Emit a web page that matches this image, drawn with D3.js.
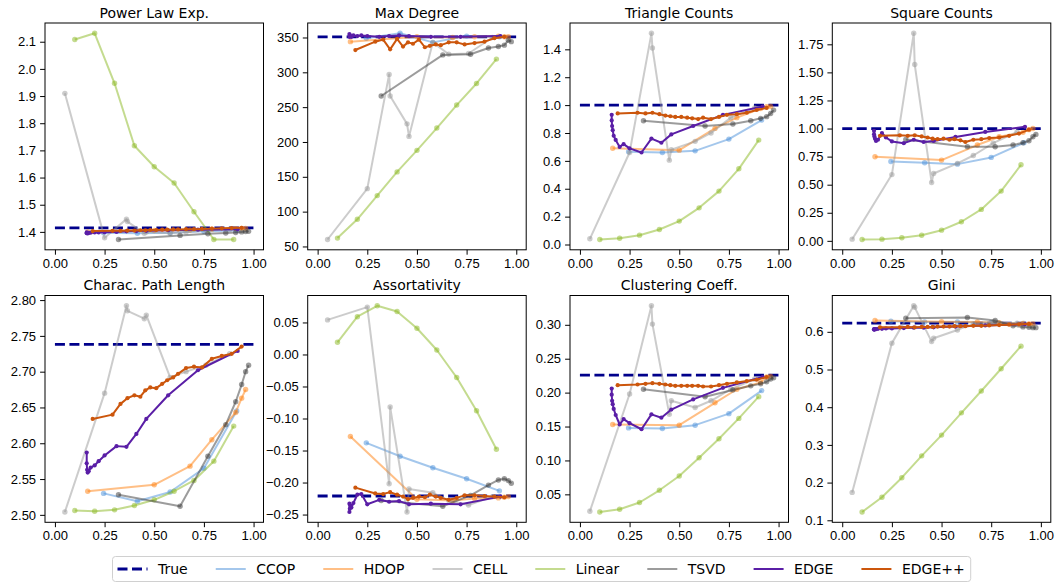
<!DOCTYPE html>
<html>
<head>
<meta charset="utf-8">
<script src="https://cdn.jsdelivr.net/npm/d3@7"></script>
<style>
  body { margin: 0; background: #fff; }
  svg { font-family: "DejaVu Sans", sans-serif; }
</style>
</head>
<body>
<svg id="chart"></svg>
<script>
// metodos, pela ordem da legenda
const methods = ["True", "CCOP", "HDOP", "CELL", "Linear", "TSVD", "EDGE", "EDGE++"]
const titles = ["Power Law Exp.", "Max Degree", "Triangle Counts", "Square Counts",
    "Charac. Path Length", "Assortativity", "Clustering Coeff.", "Gini"]

// posicoes x de cada metodo (iguais em todos os paineis)
const xTrue = [0, 1]
const xCCOP = [0.245, 0.415, 0.58, 0.75, 0.915]
const xHDOP = [0.165, 0.50, 0.68, 0.79, 0.91, 0.94, 0.96]
const xCELL = [0.05, 0.25, 0.36, 0.365, 0.45, 0.46, 0.58, 0.66, 0.76, 0.88]
const xLinear = [0.1, 0.2, 0.3, 0.4, 0.5, 0.6, 0.7, 0.8, 0.9]
const xTSVD = [0.32, 0.63, 0.77, 0.86, 0.91, 0.94, 0.96, 0.975]
const xEDGE = [0.16, 0.16, 0.162, 0.165, 0.17, 0.18, 0.2, 0.22, 0.25, 0.31, 0.36, 0.41, 0.46, 0.57, 0.72, 0.92]
const xEDGEpp = [0.19, 0.29, 0.33, 0.365, 0.40, 0.43, 0.455, 0.48, 0.51, 0.54, 0.565, 0.595, 0.62, 0.66, 0.70, 0.74, 0.79, 0.84, 0.89, 0.94]

// valores y por painel: [True, CCOP, HDOP, CELL, Linear, TSVD, EDGE, EDGE++]
const yPowerLaw = [
    [1.415, 1.415],
    [1.397, 1.395, 1.397, 1.402, 1.405],
    [1.400, 1.405, 1.407, 1.410, 1.412, 1.413, 1.413],
    [1.91, 1.378, 1.447, 1.438, 1.395, 1.400, 1.395, 1.400, 1.405, 1.410],
    [2.108, 2.131, 1.947, 1.717, 1.640, 1.580, 1.474, 1.372, 1.372],
    [1.372, 1.387, 1.393, 1.396, 1.398, 1.400, 1.401, 1.402],
    [1.398, 1.395, 1.396, 1.394, 1.396, 1.397, 1.398, 1.398, 1.399, 1.400, 1.402, 1.403, 1.404, 1.406, 1.408, 1.410],
    [1.403, 1.404, 1.404, 1.405, 1.405, 1.406, 1.406, 1.407, 1.407, 1.408, 1.408, 1.409, 1.409, 1.410, 1.410, 1.411, 1.412, 1.413, 1.414, 1.415]
]
const yMaxDegree = [
    [351, 351],
    [349, 356, 343, 352, 351],
    [344, 351, 350, 351, 352, 351, 351],
    [60, 133, 297, 266, 226, 208, 343, 326, 327, 350],
    [62, 89, 123, 157, 188, 220, 253, 284, 319],
    [266, 325, 326, 335, 337, 339, 346, 344],
    [355, 351, 353, 352, 351, 353, 352, 353, 352, 351, 352, 353, 352, 351, 351, 352],
    [332, 344, 347, 333, 348, 337, 343, 341, 347, 336, 338, 340, 339, 343, 343, 340, 342, 344, 349, 351]
]
const yTriangle = [
    [1.0, 1.0],
    [0.665, 0.66, 0.672, 0.756, 0.893],
    [0.69, 0.677, 0.833, 0.91, 0.976, 0.988, 0.99],
    [0.041, 0.66, 1.515, 1.41, 0.605, 0.68, 0.74, 0.80, 0.91, 0.98],
    [0.036, 0.045, 0.067, 0.108, 0.168, 0.263, 0.383, 0.543, 0.749],
    [0.888, 0.85, 0.864, 0.888, 0.905, 0.917, 0.94, 0.964],
    [0.93, 0.89, 0.85, 0.82, 0.78, 0.75, 0.70, 0.72, 0.69, 0.66, 0.76, 0.73, 0.79, 0.85, 0.93, 0.99],
    [0.94, 0.945, 0.94, 0.945, 0.935, 0.925, 0.92, 0.915, 0.915, 0.91, 0.905, 0.90, 0.91, 0.90, 0.915, 0.93, 0.935, 0.945, 0.965, 0.98]
]
const ySquare = [
    [1.0, 1.0],
    [0.707, 0.695, 0.683, 0.743, 0.873],
    [0.749, 0.719, 0.853, 0.927, 0.966, 0.99, 1.0],
    [0.015, 0.59, 1.848, 1.57, 0.52, 0.60, 0.69, 0.76, 0.87, 0.97],
    [0.012, 0.015, 0.027, 0.05, 0.095, 0.17, 0.28, 0.443, 0.677],
    [0.903, 0.838, 0.838, 0.853, 0.873, 0.891, 0.927, 0.948],
    [0.98, 0.95, 0.93, 0.91, 0.89, 0.90, 0.96, 0.92, 0.885, 0.87, 0.90, 0.88, 0.89, 0.925, 0.97, 1.015],
    [0.935, 0.94, 0.935, 0.94, 0.93, 0.92, 0.91, 0.905, 0.91, 0.90, 0.905, 0.895, 0.88, 0.90, 0.905, 0.915, 0.92, 0.935, 0.955, 0.99]
]
const yPathLength = [
    [2.738, 2.738],
    [2.53, 2.519, 2.532, 2.565, 2.645],
    [2.533, 2.542, 2.568, 2.605, 2.643, 2.663, 2.675],
    [2.504, 2.670, 2.792, 2.785, 2.774, 2.779, 2.692, 2.700, 2.709, 2.725],
    [2.506, 2.505, 2.507, 2.513, 2.521, 2.533, 2.548, 2.575, 2.624],
    [2.528, 2.512, 2.582, 2.626, 2.658, 2.682, 2.700, 2.709],
    [2.587, 2.572, 2.563, 2.559, 2.561, 2.566, 2.569, 2.575, 2.583, 2.596, 2.595, 2.613, 2.634, 2.667, 2.702, 2.729],
    [2.634, 2.640, 2.655, 2.663, 2.667, 2.665, 2.674, 2.678, 2.677, 2.683, 2.688, 2.692, 2.697, 2.705, 2.707, 2.706, 2.718, 2.722, 2.725, 2.735]
]
const yAssort = [
    [-0.221, -0.221],
    [-0.138, -0.159, -0.177, -0.194, -0.213],
    [-0.128, -0.226, -0.228, -0.225, -0.224, -0.223, -0.222],
    [0.054, 0.074, -0.202, -0.082, -0.246, -0.210, -0.216, -0.228, -0.235, -0.222],
    [0.019, 0.059, 0.076, 0.067, 0.041, 0.007, -0.036, -0.088, -0.148],
    [-0.228, -0.237, -0.220, -0.204, -0.196, -0.194, -0.197, -0.201],
    [-0.246, -0.233, -0.241, -0.236, -0.239, -0.232, -0.219, -0.218, -0.234, -0.227, -0.230, -0.229, -0.234, -0.233, -0.234, -0.222],
    [-0.208, -0.217, -0.218, -0.215, -0.219, -0.222, -0.226, -0.224, -0.222, -0.223, -0.219, -0.222, -0.224, -0.227, -0.224, -0.220, -0.220, -0.221, -0.222, -0.223]
]
const yClustering = [
    [0.2257, 0.2257],
    [0.148, 0.147, 0.152, 0.169, 0.203],
    [0.153, 0.152, 0.185, 0.205, 0.215, 0.223, 0.224],
    [0.025, 0.198, 0.328, 0.301, 0.168, 0.188, 0.178, 0.188, 0.205, 0.22],
    [0.024, 0.028, 0.038, 0.056, 0.077, 0.104, 0.132, 0.162, 0.194],
    [0.205, 0.194, 0.204, 0.210, 0.213, 0.216, 0.220, 0.222],
    [0.206, 0.197, 0.188, 0.183, 0.176, 0.167, 0.153, 0.161, 0.155, 0.146, 0.168, 0.163, 0.175, 0.190, 0.207, 0.223],
    [0.211, 0.212, 0.213, 0.214, 0.213, 0.212, 0.211, 0.210, 0.210, 0.210, 0.210, 0.210, 0.209, 0.209, 0.211, 0.213, 0.215, 0.217, 0.219, 0.223]
]
const yGini = [
    [0.623, 0.623],
    [0.628, 0.626, 0.626, 0.624, 0.622],
    [0.630, 0.627, 0.626, 0.624, 0.622, 0.621, 0.621],
    [0.174, 0.57, 0.669, 0.665, 0.574, 0.583, 0.605, 0.621, 0.625, 0.623],
    [0.122, 0.161, 0.213, 0.271, 0.326, 0.385, 0.443, 0.502, 0.562],
    [0.636, 0.638, 0.630, 0.616, 0.613, 0.612, 0.611, 0.611],
    [0.606, 0.607, 0.606, 0.607, 0.607, 0.608, 0.608, 0.609, 0.609, 0.610, 0.611, 0.611, 0.612, 0.614, 0.617, 0.620],
    [0.612, 0.612, 0.613, 0.612, 0.613, 0.613, 0.613, 0.614, 0.614, 0.614, 0.615, 0.615, 0.615, 0.616, 0.616, 0.617, 0.618, 0.619, 0.620, 0.621]
]

// ticks
const xTicks = [0, 0.25, 0.5, 0.75, 1]
const yTicks = [
    [1.4, 1.5, 1.6, 1.7, 1.8, 1.9, 2.0, 2.1],
    [50, 100, 150, 200, 250, 300, 350],
    [0, 0.2, 0.4, 0.6, 0.8, 1.0, 1.2, 1.4],
    [0, 0.25, 0.5, 0.75, 1.0, 1.25, 1.5, 1.75],
    [2.5, 2.55, 2.6, 2.65, 2.7, 2.75, 2.8],
    [-0.25, -0.2, -0.15, -0.1, -0.05, 0, 0.05],
    [0.05, 0.1, 0.15, 0.2, 0.25, 0.3],
    [0.1, 0.2, 0.3, 0.4, 0.5, 0.6]
]
const yFormats = [".1f", ".0f", ".1f", ".2f", ".2f", ".2f", ".2f", ".1f"]

const panelsY = [yPowerLaw, yMaxDegree, yTriangle, ySquare, yPathLength, yAssort, yClustering, yGini]
const xs = [xTrue, xCCOP, xHDOP, xCELL, xLinear, xTSVD, xEDGE, xEDGEpp]

// estilos
const colors = ["#00008b", "#4a90d9", "#ff7f0e", "#999999", "#8ab820", "#3a3a3a", "#5a1ea6", "#cc560c"]
const alphas = [1, 0.5, 0.5, 0.5, 0.5, 0.5, 1, 1]
const radius = [0, 2.7, 2.7, 2.7, 2.7, 2.7, 2.1, 2.1]

let svgWidth = 1058
let svgHeight = 582
let colLeft = [45, 307.7, 570, 832.3]
let rowTop = [23, 295.5]
let panelW = 218.5
let panelH = 226.8

const svg = d3.select("#chart")
    .attr("width", svgWidth)
    .attr("height", svgHeight)

panelsY.forEach((ys, p) => {
    let left = colLeft[p % 4]
    let top = rowTop[Math.floor(p / 4)]

    let x = d3.scaleLinear().domain([-0.05, 1.05]).range([0, panelW])
    let allY = ys.flat()
    let ext = d3.extent(allY)
    let pad = (ext[1] - ext[0]) * 0.05
    let y = d3.scaleLinear().domain([ext[0] - pad, ext[1] + pad]).range([panelH, 0])

    let g = svg.append("g").attr("transform", `translate(${left}, ${top})`)

    g.append("g")
        .attr("transform", `translate(0, ${panelH})`)
        .call(d3.axisBottom(x).tickValues(xTicks).tickFormat(d3.format(".2f"))
            .tickSizeInner(4.9).tickSizeOuter(0).tickPadding(4))
    g.append("g")
        .call(d3.axisLeft(y).tickValues(yTicks[p]).tickFormat(d3.format(yFormats[p]))
            .tickSizeInner(4.9).tickSizeOuter(0).tickPadding(4))

    g.selectAll(".tick text").style("font-size", "13px").attr("fill", "#000")
    g.selectAll(".tick line").attr("stroke", "#000").attr("stroke-width", 1)
    g.selectAll(".domain").remove()

    // linhas
    let line = d3.line().x(d => x(d[0])).y(d => y(d[1]))
    ys.forEach((vals, m) => {
        let pts = vals.map((v, i) => [xs[m][i], v])
        let s = g.append("g")
        s.append("path")
            .attr("d", line(pts))
            .attr("fill", "none")
            .attr("stroke", colors[m])
            .attr("stroke-opacity", alphas[m])
            .attr("stroke-width", m == 0 ? 2.8 : 2)
            .attr("stroke-dasharray", m == 0 ? "10,4.5" : null)
            .attr("stroke-linejoin", "round")
        if (m > 0) {
            s.selectAll("circle")
                .data(pts)
                .enter()
                .append("circle")
                .attr("cx", d => x(d[0]))
                .attr("cy", d => y(d[1]))
                .attr("r", radius[m])
                .attr("fill", colors[m])
                .attr("fill-opacity", alphas[m])
        }
    })

    g.append("rect")
        .attr("width", panelW)
        .attr("height", panelH)
        .attr("fill", "none")
        .attr("stroke", "#000")
        .attr("stroke-width", 1)

    g.append("text")
        .attr("x", panelW / 2)
        .attr("y", -5.5)
        .attr("text-anchor", "middle")
        .style("font-size", "14px")
        .text(titles[p])
})

// legenda
let legX = 112.5
let legY = 556.5
let handleLen = 30
let textGap = 10.5
let colSpacing = 28
let legend = svg.append("g")
let legBox = legend.append("rect")
    .attr("x", legX)
    .attr("y", legY)
    .attr("height", 25)
    .attr("rx", 3)
    .attr("fill", "#fff")
    .attr("stroke", "#d0d0d0")
    .attr("stroke-width", 1)

let cx = legX + 5
methods.forEach((name, m) => {
    legend.append("line")
        .attr("x1", cx).attr("x2", cx + handleLen)
        .attr("y1", legY + 12.5).attr("y2", legY + 12.5)
        .attr("stroke", colors[m])
        .attr("stroke-opacity", alphas[m])
        .attr("stroke-width", m == 0 ? 2.8 : 2)
        .attr("stroke-dasharray", m == 0 ? "10,4.5" : null)
    let t = legend.append("text")
        .attr("x", cx + handleLen + textGap)
        .attr("y", legY + 17.5)
        .style("font-size", "14px")
        .text(name)
    cx = cx + handleLen + textGap + t.node().getComputedTextLength() + colSpacing
})
legBox.attr("width", cx - colSpacing + 6 - legX)
</script>
</body>
</html>
